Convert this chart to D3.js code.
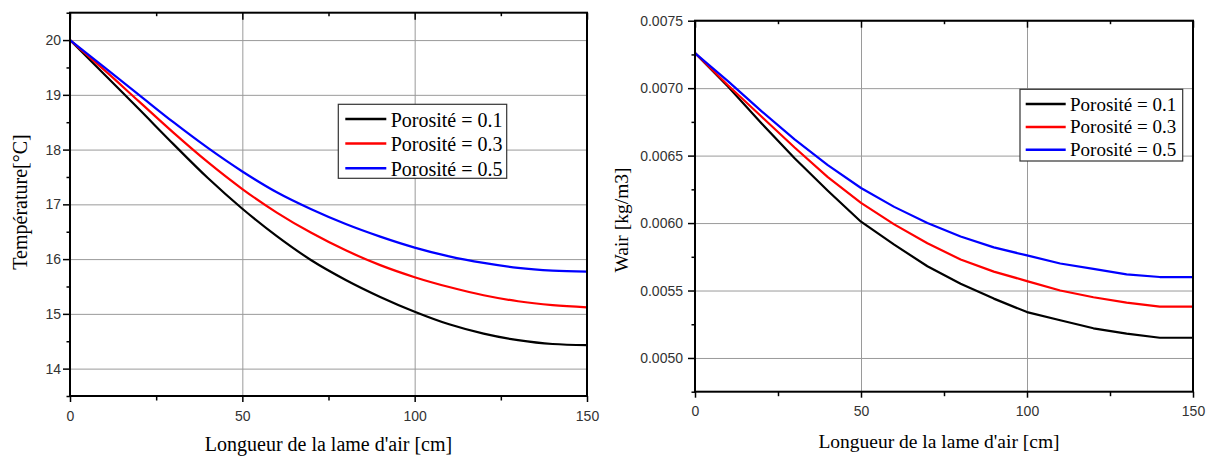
<!DOCTYPE html>
<html>
<head>
<meta charset="utf-8">
<script src="https://cdn.jsdelivr.net/npm/d3@7"></script>
<style>
  html, body { margin: 0; padding: 0; background: #fff; }
  svg { display: block; }
</style>
</head>
<body>
<svg id="chart" width="1208" height="457"></svg>
<script>
// ---------------- data ----------------
const lengthCm = [0, 10, 20, 30, 40, 50, 60, 70, 80, 90, 100, 110, 120, 130, 140, 150];

const seriesNames = ["Porosité = 0.1", "Porosité = 0.3", "Porosité = 0.5"];
const seriesColors = ["#000000", "#ff0000", "#0000ff"];

// Left panel : Température [°C]
const tempP01 = [20, 19.37, 18.74, 18.10, 17.48, 16.92, 16.42, 15.98, 15.62, 15.31, 15.04, 14.81, 14.64, 14.52, 14.45, 14.43];
const tempP03 = [20, 19.45, 18.88, 18.31, 17.77, 17.28, 16.85, 16.48, 16.16, 15.89, 15.67, 15.49, 15.34, 15.23, 15.16, 15.12];
const tempP05 = [20, 19.50, 19.00, 18.50, 18.03, 17.60, 17.22, 16.91, 16.64, 16.41, 16.21, 16.05, 15.93, 15.84, 15.79, 15.77];

// Right panel : Wair [kg/m3]
const wairP01 = [0.00726, 0.00701, 0.00674, 0.00648, 0.00624, 0.00601, 0.00584, 0.00568, 0.00555, 0.00544, 0.00534, 0.00528, 0.00522, 0.00518, 0.00515, 0.00515];
const wairP03 = [0.00726, 0.00702, 0.00679, 0.00656, 0.00634, 0.00615, 0.00599, 0.00585, 0.00573, 0.00564, 0.00557, 0.00550, 0.00545, 0.00541, 0.00538, 0.00538];
const wairP05 = [0.00726, 0.00705, 0.00683, 0.00662, 0.00643, 0.00626, 0.00612, 0.00600, 0.00590, 0.00582, 0.00576, 0.00570, 0.00566, 0.00562, 0.00560, 0.00560];

const xMajorTicks = [0, 50, 100, 150];
const xMinorTicks = [25, 75, 125];
const tempMajorTicks = [14, 15, 16, 17, 18, 19, 20];
const tempMinorTicks = [13.5, 14.5, 15.5, 16.5, 17.5, 18.5, 19.5, 20.5];
const wairMajorTicks = [0.0050, 0.0055, 0.0060, 0.0065, 0.0070, 0.0075];
const wairMinorTicks = [0.00475, 0.00525, 0.00575, 0.00625, 0.00675, 0.00725];

const xTitle = "Longueur de la lame d'air [cm]";
const tempTitle = "Température[°C]";
const wairTitle = "Wair [kg/m3]";

// ---------------- drawing ----------------
const svg = d3.select("#chart");
svg.append("rect").attr("width", 1208).attr("height", 457).attr("fill", "#fff");

const SANS = "'Liberation Sans', Arial, sans-serif";
const SERIF = "'Liberation Serif', 'Times New Roman', serif";

function drawPanel(cfg) {
  const x = d3.scaleLinear().domain([0, 150]).range([cfg.left, cfg.right]);
  const y = d3.scaleLinear().domain(cfg.yDomain).range([cfg.bottom, cfg.top]);
  const g = svg.append("g");
  const W = cfg.right - cfg.left, H = cfg.bottom - cfg.top;

  // grid
  const gridY = g.append("g").attr("transform", `translate(${cfg.left},0)`)
    .call(d3.axisLeft(y).tickValues(cfg.yMajor).tickSize(-W).tickFormat(""));
  const gridX = g.append("g").attr("transform", `translate(0,${cfg.bottom})`)
    .call(d3.axisBottom(x).tickValues(xMajorTicks).tickSize(-H).tickFormat(""));
  [gridY, gridX].forEach(s => {
    s.select(".domain").remove();
    s.selectAll("line").attr("stroke", "#9a9a9a").attr("stroke-width", 1);
  });

  // series lines
  const line = d3.line()
    .x((d, i) => x(lengthCm[i]))
    .y(d => y(d))
    .curve(cfg.curve);
  cfg.series.forEach((vals, k) => {
    g.append("path").datum(vals)
      .attr("fill", "none")
      .attr("stroke", seriesColors[k])
      .attr("stroke-width", 2.2)
      .attr("stroke-linejoin", "round")
      .attr("d", line);
  });

  // axes ticks
  function styleAxis(s) {
    s.select(".domain").remove();
    s.selectAll("line").attr("stroke", "#000").attr("stroke-width", 1.5);
    s.selectAll("text").attr("font-family", SANS).attr("font-size", 14).attr("fill", "#333");
  }
  // left
  const yl = g.append("g").attr("transform", `translate(${cfg.left},0)`)
    .call(d3.axisLeft(y).tickValues(cfg.yMajor).tickSize(7).tickPadding(cfg.yPad).tickFormat(cfg.yFormat));
  styleAxis(yl);
  const ylm = g.append("g").attr("transform", `translate(${cfg.left},0)`)
    .call(d3.axisLeft(y).tickValues(cfg.yMinor).tickSize(3.5).tickFormat(""));
  styleAxis(ylm);
  // bottom
  const xb = g.append("g").attr("transform", `translate(0,${cfg.bottom})`)
    .call(d3.axisBottom(x).tickValues(xMajorTicks).tickSize(6).tickPadding(cfg.xPad).tickFormat(d3.format("d")));
  styleAxis(xb);
  const xbm = g.append("g").attr("transform", `translate(0,${cfg.bottom})`)
    .call(d3.axisBottom(x).tickValues(xMinorTicks).tickSize(4.5).tickFormat(""));
  styleAxis(xbm);
  // top (inward ticks)
  const xt = g.append("g").attr("transform", `translate(0,${cfg.top})`)
    .call(d3.axisBottom(x).tickValues(xMajorTicks).tickSize(7).tickFormat(""));
  styleAxis(xt);
  const xtm = g.append("g").attr("transform", `translate(0,${cfg.top})`)
    .call(d3.axisBottom(x).tickValues(xMinorTicks).tickSize(3.5).tickFormat(""));
  styleAxis(xtm);

  // frame
  g.append("rect")
    .attr("x", cfg.left).attr("y", cfg.top)
    .attr("width", W).attr("height", H)
    .attr("fill", "none").attr("stroke", "#000").attr("stroke-width", 2);

  // titles
  g.append("text")
    .attr("x", (cfg.left + cfg.right) / 2 + cfg.xTitleDx).attr("y", cfg.xTitleY)
    .attr("text-anchor", "middle")
    .attr("font-family", SERIF).attr("font-size", cfg.titleSize).attr("fill", "#000")
    .text(xTitle);
  g.append("text")
    .attr("transform", `translate(${cfg.yTitleX},${cfg.yTitleCy}) rotate(-90)`)
    .attr("text-anchor", "middle")
    .attr("font-family", SERIF).attr("font-size", cfg.titleSize).attr("fill", "#000")
    .text(cfg.yTitle);

  // legend
  const L = cfg.legend;
  const lg = g.append("g");
  lg.append("rect")
    .attr("x", L.x).attr("y", L.y).attr("width", L.w).attr("height", L.h)
    .attr("fill", "#fff").attr("stroke", "#333").attr("stroke-width", 1.2);
  seriesNames.forEach((name, k) => {
    const cy = L.firstY + k * L.step;
    lg.append("line")
      .attr("x1", L.x + L.lx1).attr("x2", L.x + L.lx2)
      .attr("y1", cy).attr("y2", cy)
      .attr("stroke", seriesColors[k]).attr("stroke-width", 2.5);
    lg.append("text")
      .attr("x", L.x + L.tx).attr("y", cy + L.baseDy)
      .attr("font-family", SERIF).attr("font-size", L.size).attr("fill", "#000")
      .text(name);
  });
}

drawPanel({
  left: 70, right: 587, top: 12.7, bottom: 396,
  yDomain: [13.5, 20.5], yMajor: tempMajorTicks, yMinor: tempMinorTicks,
  yFormat: d3.format("d"), yPad: 2, xPad: 9.5,
  series: [tempP01, tempP03, tempP05], curve: d3.curveMonotoneX,
  xTitleY: 451, xTitleDx: 0, titleSize: 20,
  yTitle: tempTitle, yTitleX: 27, yTitleCy: 202,
  legend: { x: 338.3, y: 104.3, w: 168.4, h: 74, firstY: 119, step: 24.6,
            lx1: 7, lx2: 48, tx: 52.4, baseDy: 7.5, size: 20 }
});

drawPanel({
  left: 695, right: 1193, top: 20.7, bottom: 391.7,
  yDomain: [0.00475, 0.0075], yMajor: wairMajorTicks, yMinor: wairMinorTicks,
  yFormat: d3.format(".4f"), yPad: 5, xPad: 8.5,
  series: [wairP01, wairP03, wairP05], curve: d3.curveLinear,
  xTitleY: 447.5, xTitleDx: -5, titleSize: 19.5,
  yTitle: wairTitle, yTitleX: 628, yTitleCy: 220,
  legend: { x: 1020, y: 89.3, w: 162.7, h: 71.7, firstY: 104, step: 22.9,
            lx1: 5.7, lx2: 45.7, tx: 50, baseDy: 6.5, size: 19 }
});
</script>
</body>
</html>
